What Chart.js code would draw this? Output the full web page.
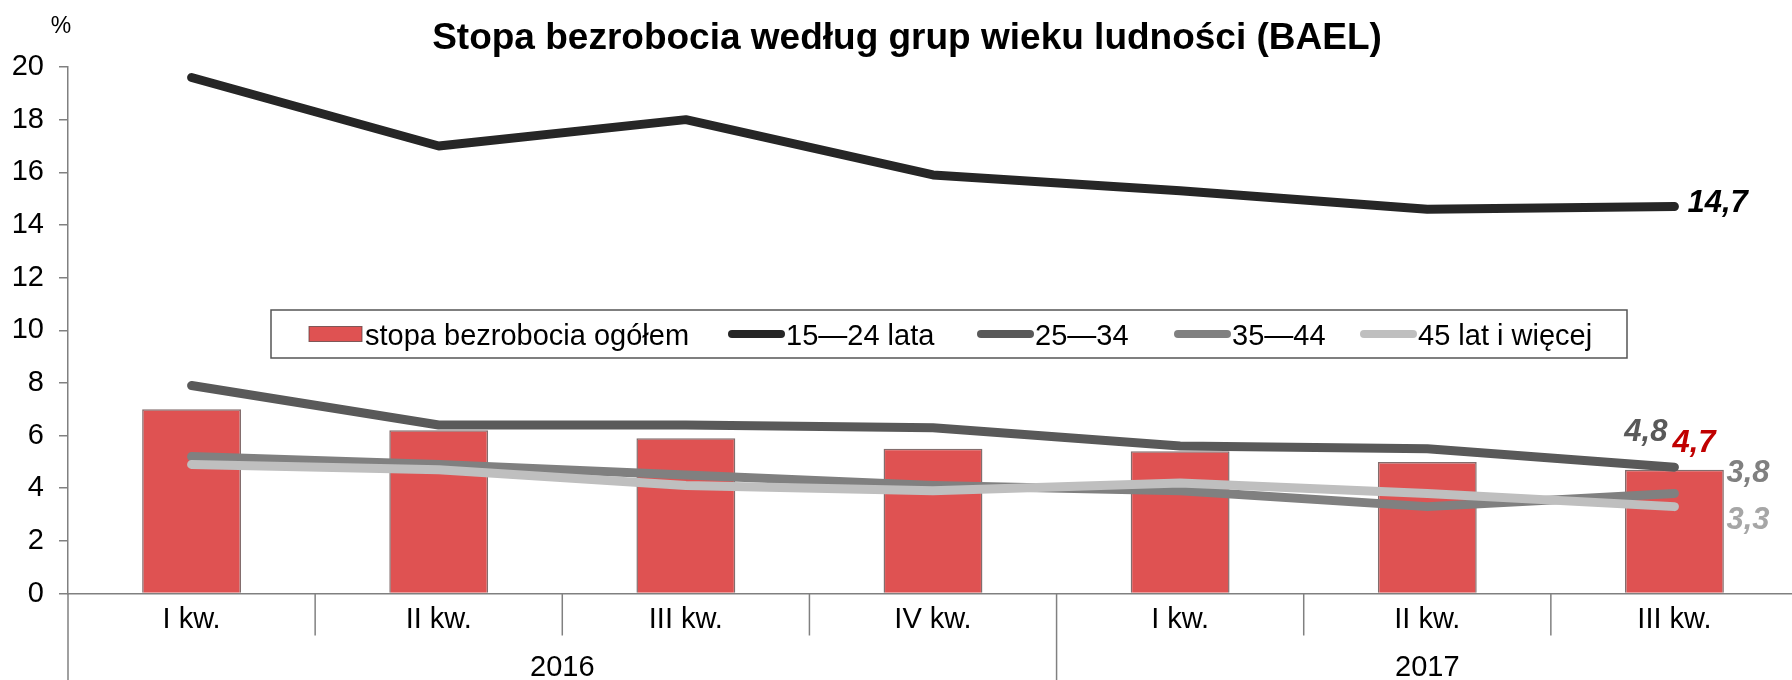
<!DOCTYPE html>
<html><head><meta charset="utf-8">
<script src="https://cdn.jsdelivr.net/npm/chart.js@4.4.0/dist/chart.umd.min.js"></script>
<style>html,body{margin:0;padding:0;overflow:hidden;background:#fff}#wrap{width:1800px;height:680px;position:relative}</style>
</head><body><div id="wrap"><canvas id="c" width="1800" height="680"></canvas></div>
<script>
// ---- data ----
const categories = ['I kw.', 'II kw.', 'III kw.', 'IV kw.', 'I kw.', 'II kw.', 'III kw.'];
const years = ['2016', '2017'];
const quartersPerYear = [4, 3];
const totalRate = [7.0, 6.2, 5.9, 5.5, 5.4, 5.0, 4.7];
const age15_24 = [19.6, 17.0, 18.0, 15.9, 15.3, 14.6, 14.7];
const age25_34 = [7.9, 6.4, 6.4, 6.3, 5.6, 5.5, 4.8];
const age35_44 = [5.2, 4.9, 4.5, 4.1, 3.9, 3.3, 3.8];
const age45plus = [4.9, 4.7, 4.1, 3.9, 4.2, 3.8, 3.3];
const seriesNames = ['stopa bezrobocia ogółem', '15—24 lata', '25—34', '35—44', '45 lat i więcej'];
const yMin = 0, yMax = 20, yStep = 2;
const titleText = 'Stopa bezrobocia według grup wieku ludności (BAEL)';
const unitText = '%';

// ---- styling ----
const FONT = '"Liberation Sans", Arial, sans-serif';
const AXIS = '#808080';
const colors = {
  bar: '#DF5252', barBorder: 'rgba(90,60,60,0.75)',
  l1: '#262626', l2: '#595959', l3: '#808080', l4: '#BFBFBF'
};
const labelColors = ['#C00000', '#000000', '#595959', '#808080', '#A6A6A6'];

Chart.defaults.font.family = FONT;
Chart.defaults.color = '#000';

const fmt = v => v.toFixed(1).replace('.', ',');

const lineDs = (label, data, color, order) => ({
  type: 'line', label, data, borderColor: color, backgroundColor: color,
  borderWidth: 9, pointRadius: 0, tension: 0, order,
  borderCapStyle: 'round', borderJoinStyle: 'round'
});

const overlay = {
  id: 'overlay',
  afterDraw(chart) {
    const { ctx, chartArea: a, scales: { x } } = chart;
    const H = chart.height;
    ctx.save();
    ctx.strokeStyle = AXIS; ctx.lineWidth = 1.5;
    ctx.beginPath(); ctx.moveTo(a.left, a.bottom); ctx.lineTo(a.left, H); ctx.stroke();
    const yearStarts = [];
    let acc = 0;
    quartersPerYear.forEach(n => { acc += n; yearStarts.push(acc); });
    for (let i = 1; i < categories.length; i++) {
      const bx = (x.getPixelForValue(i - 1) + x.getPixelForValue(i)) / 2;
      const isYear = yearStarts.includes(i);
      ctx.beginPath(); ctx.moveTo(bx, a.bottom); ctx.lineTo(bx, isYear ? H : a.bottom + 42); ctx.stroke();
    }
    ctx.fillStyle = '#000'; ctx.font = '29px ' + FONT; ctx.textAlign = 'center'; ctx.textBaseline = 'alphabetic';
    let start = 0;
    years.forEach((yr, k) => {
      const n = quartersPerYear[k];
      const left = start === 0 ? a.left : (x.getPixelForValue(start - 1) + x.getPixelForValue(start)) / 2;
      const endIdx = start + n - 1;
      const right = endIdx === categories.length - 1 ? a.right : (x.getPixelForValue(endIdx) + x.getPixelForValue(endIdx + 1)) / 2;
      ctx.fillText(yr, (left + right) / 2, a.bottom + 82);
      start += n;
    });
    ctx.font = 'bold 37px ' + FONT; ctx.textAlign = 'center';
    ctx.fillText(titleText, 907, 49);
    ctx.font = '23px ' + FONT;
    ctx.fillText(unitText, 61, 33);

    const lx = 271, ly = 310, lw = 1356, lh = 48;
    ctx.fillStyle = '#fff'; ctx.fillRect(lx, ly, lw, lh);
    ctx.strokeStyle = '#555'; ctx.lineWidth = 1.5; ctx.strokeRect(lx, ly, lw, lh);
    const cy = ly + lh / 2;
    const sampleX = [309, 728, 977, 1174, 1360];
    ctx.font = '29px ' + FONT; ctx.textAlign = 'left'; ctx.fillStyle = '#000';
    chart.data.datasets.forEach((ds, i) => {
      const sx = sampleX[i];
      if (ds.type === 'bar') {
        ctx.fillStyle = ds.backgroundColor; ctx.fillRect(sx, cy - 7.5, 53, 15);
        ctx.strokeStyle = ds.borderColor; ctx.lineWidth = 1; ctx.strokeRect(sx, cy - 7.5, 53, 15);
        ctx.fillStyle = '#000'; ctx.fillText(ds.label, sx + 56, cy + 10.5);
      } else {
        ctx.strokeStyle = ds.borderColor; ctx.lineWidth = 8; ctx.lineCap = 'round';
        ctx.beginPath(); ctx.moveTo(sx + 4, cy); ctx.lineTo(sx + 53, cy); ctx.stroke();
        ctx.fillStyle = '#000'; ctx.fillText(ds.label, sx + 58, cy + 10.5);
      }
    });

    ctx.font = 'italic bold 31px ' + FONT;
    const last = categories.length - 1;
    const offs = [
      { dx: -2, dy: -18, align: 'left' },
      { dx: 13, dy: 5, align: 'left' },
      { dx: -7, dy: -26, align: 'right' },
      { dx: 52, dy: -11, align: 'left' },
      { dx: 52, dy: 22, align: 'left' }
    ];
    chart.data.datasets.forEach((ds, i) => {
      const el = chart.getDatasetMeta(i).data[last];
      const o = offs[i];
      ctx.fillStyle = labelColors[i]; ctx.textAlign = o.align;
      ctx.fillText(fmt(ds.data[last]), el.x + o.dx, el.y + o.dy);
    });
    ctx.restore();
  }
};

new Chart(document.getElementById('c'), {
  data: {
    labels: categories,
    datasets: [
      { type: 'bar', label: seriesNames[0], data: totalRate, backgroundColor: colors.bar,
        borderColor: colors.barBorder, borderWidth: 1.5, categoryPercentage: 1, barPercentage: 0.4, order: 5 },
      lineDs(seriesNames[1], age15_24, colors.l1, 4),
      lineDs(seriesNames[2], age25_34, colors.l2, 3),
      lineDs(seriesNames[3], age35_44, colors.l3, 2),
      lineDs(seriesNames[4], age45plus, colors.l4, 1)
    ]
  },
  options: {
    responsive: false, devicePixelRatio: 1, animation: false,
    layout: { padding: { top: 67, right: 2, left: 0, bottom: 0 } },
    plugins: { legend: { display: false }, title: { display: false }, tooltip: { enabled: false } },
    scales: {
      x: {
        offset: true,
        grid: { display: false, drawTicks: false, tickLength: 0 },
        border: { display: true, color: AXIS, width: 1.5 },
        ticks: { font: { size: 29 }, color: '#000', padding: 9, maxRotation: 0, autoSkip: false },
        afterFit: s => { s.height = 86.5; }
      },
      y: {
        min: yMin, max: yMax,
        grid: { drawOnChartArea: false, drawTicks: true, tickLength: 9, color: AXIS, lineWidth: 1.5 },
        border: { display: true, color: AXIS, width: 1.5 },
        ticks: { stepSize: yStep, font: { size: 29 }, color: '#000', padding: 15 },
        afterFit: s => { s.width = 68; }
      }
    }
  },
  plugins: [overlay]
});
</script>
</body></html>
